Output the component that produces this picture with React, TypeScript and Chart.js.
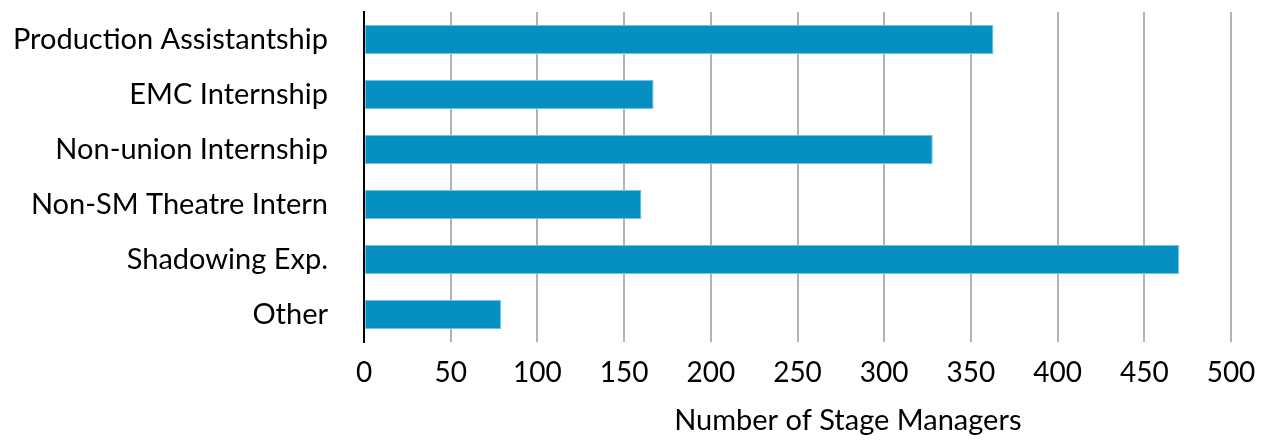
import React, { useEffect, useRef } from "react";
import { Chart, registerables } from "chart.js";

Chart.register(...registerables);

const categories = [
  "Production Assistantship",
  "EMC Internship",
  "Non-union Internship",
  "Non-SM Theatre Intern",
  "Shadowing Exp.",
  "Other",
];
const values = [363, 167, 328, 160, 470, 79];
const xTicks = [0, 50, 100, 150, 200, 250, 300, 350, 400, 450, 500];
const xTitle = "Number of Stage Managers";

const FONT = "Lato, 'Open Sans', sans-serif";

const titlePlugin = {
  id: "offsetTitle",
  afterDraw(chart: any) {
    const ctx = chart.ctx;
    const area = chart.chartArea;
    ctx.save();
    ctx.font = `29px ${FONT}`;
    ctx.fillStyle = "#000";
    ctx.textAlign = "center";
    ctx.textBaseline = "middle";
    // title sits centred slightly right of the plot centre, below the tick labels
    const cx = area.left + (area.right - area.left) * 0.558;
    ctx.fillText(xTitle, cx, area.bottom + 79);
    ctx.restore();
  },
};

export default function App() {
  const ref = useRef<HTMLCanvasElement>(null);
  useEffect(() => {
    if (!ref.current) return;
    const chart = new Chart(ref.current, {
      type: "bar",
      data: {
        labels: categories,
        datasets: [
          {
            data: values,
            backgroundColor: "#0690C1",
            borderColor: "#6CC4E8",
            borderWidth: 1,
            borderSkipped: false,
            barPercentage: 0.53,
            categoryPercentage: 1,
          },
        ],
      },
      plugins: [titlePlugin],
      options: {
        indexAxis: "y",
        animation: false,
        responsive: false,
        maintainAspectRatio: false,
        layout: { padding: { top: 12, right: 34, left: 0, bottom: 0 } },
        plugins: { legend: { display: false }, tooltip: { enabled: false } },
        scales: {
          x: {
            min: 0,
            max: 500,
            afterBuildTicks: (scale: any) => {
              scale.ticks = xTicks.map((v) => ({ value: v }));
            },
            afterFit: (scale: any) => {
              scale.height = 100;
              scale.paddingLeft = 0;
              scale.paddingRight = 0;
            },
            grid: { color: "#b3b3b3", lineWidth: 2, drawTicks: false },
            border: { display: false },
            ticks: {
              color: "#000",
              font: { family: FONT, size: 28 },
              padding: 14,
              maxRotation: 0,
            },
            title: { display: false, text: xTitle },
          },
          y: {
            afterFit: (scale: any) => {
              scale.width = 364;
              scale.paddingTop = 0;
              scale.paddingBottom = 0;
            },
            grid: { display: false, drawTicks: false },
            border: { display: true, color: "#000", width: 2 },
            ticks: {
              color: "#000",
              font: { family: FONT, size: 29 },
              padding: 36,
            },
          },
        },
      },
    });
    return () => chart.destroy();
  }, []);
  return (
    <div style={{ position: "absolute", left: 0, top: 0, width: 1265, height: 442 }}>
      <canvas ref={ref} width={1265} height={442} style={{ width: 1265, height: 442 }} />
    </div>
  );
}
